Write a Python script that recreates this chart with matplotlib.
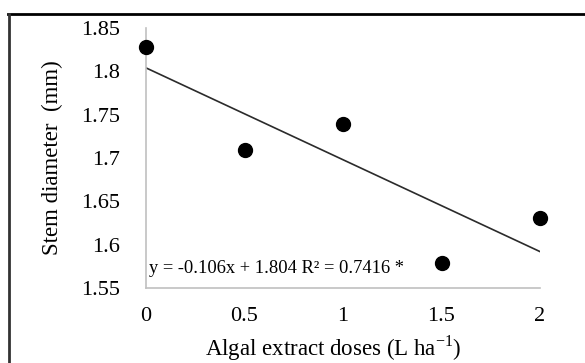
import matplotlib.pyplot as plt
from matplotlib.lines import Line2D

# data
doses = [0, 0.5, 1, 1.5, 2]
stem_diameter = [1.828, 1.709, 1.739, 1.579, 1.631]
slope = -0.106
intercept = 1.804
x_ticks = [0, 0.5, 1, 1.5, 2]
x_tick_labels = ['0', '0.5', '1', '1.5', '2']
y_ticks = [1.55, 1.6, 1.65, 1.7, 1.75, 1.8, 1.85]
y_tick_labels = ['1.55', '1.6', '1.65', '1.7', '1.75', '1.8', '1.85']

plt.rcParams['font.family'] = ['Liberation Serif', 'DejaVu Serif']
plt.rcParams['mathtext.fontset'] = 'custom'
plt.rcParams['mathtext.rm'] = 'Liberation Serif'
plt.rcParams['axes.unicode_minus'] = False

W, H = 585, 363
fig = plt.figure(figsize=(W / 100, H / 100), dpi=100)
ax = fig.add_axes([146 / W, 1 - 288 / H, (540 - 146) / W, (288 - 28) / H])

ax.scatter(doses, stem_diameter, s=100, color='black', zorder=3, clip_on=False)
ax.plot([doses[0], doses[-1]], [intercept + slope * doses[0], intercept + slope * doses[-1]],
        color='#2b2b2b', linewidth=1.2)

ax.set_xlim(0, 2)
ax.set_ylim(1.55, 1.85)
ax.set_xticks(x_ticks)
ax.set_xticklabels(x_tick_labels)
ax.set_yticks(y_ticks)
ax.set_yticklabels(y_tick_labels)
ax.tick_params(axis='both', length=0, labelsize=16)
ax.tick_params(axis='y', pad=19)
ax.tick_params(axis='x', pad=14)

for s in ['top', 'right']:
    ax.spines[s].set_visible(False)
for s in ['left', 'bottom']:
    ax.spines[s].set_color('#c0c0c0')
    ax.spines[s].set_linewidth(1.2)

ax.set_ylabel('Stem diameter  (mm)', fontsize=16.5, labelpad=13)
ax.set_xlabel('Algal extract doses (L ha$^{\\mathregular{-1}}$)', fontsize=16.5, va='center')
ax.xaxis.set_label_coords(0.475, -0.23)

ax.text(0.015, 1.573, 'y = -0.106x + 1.804 R² = 0.7416 *', fontsize=13.3, va='center', ha='left')

# outer frame (top and left edges only visible in reference)
fig.add_artist(Line2D([8 / W, 1.0], [1 - 13.5 / H, 1 - 13.5 / H], color='black', linewidth=2, transform=fig.transFigure))
fig.add_artist(Line2D([9 / W, 9 / W], [0, 1 - 13.5 / H], color='#333333', linewidth=2, transform=fig.transFigure))

fig.savefig('out.png', dpi=100)
